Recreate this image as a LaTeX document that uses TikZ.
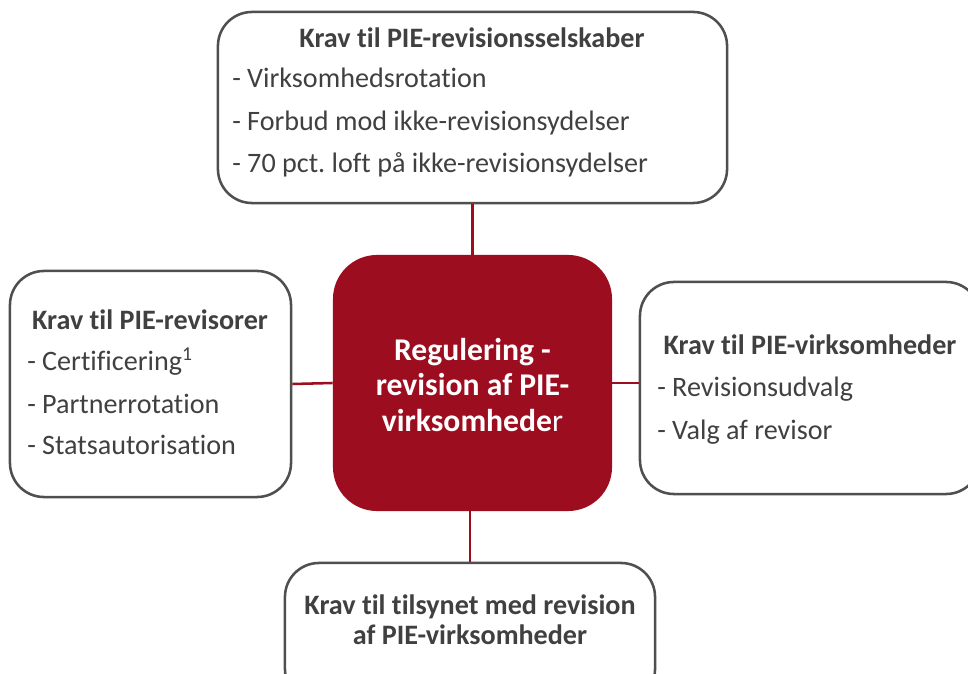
\documentclass[tikz,border=0pt]{standalone}
\usepackage{fontspec}
\setmainfont{Carlito}[Ligatures=NoCommon]
\usetikzlibrary{positioning}
\frenchspacing

\definecolor{piered}{HTML}{9C0D1F}
\definecolor{tekstgraa}{HTML}{404040}
\definecolor{kantgraa}{HTML}{4F4F4F}

\tikzset{
	kasse/.style={draw=kantgraa, line width=1.8pt, rounded corners=0.85cm, fill=white, inner sep=0pt},
	midte/.style={fill=piered, rounded corners=1.1cm, inner sep=0pt},
	forbind/.style={draw=piered, line width=1.8pt},
	titel/.style={text=tekstgraa, font=\fontsize{20}{24}\selectfont\bfseries, anchor=base},
	punkt/.style={text=tekstgraa, font=\fontsize{20}{24}\selectfont, anchor=base west, inner sep=0pt}
}

\begin{document}
\begin{tikzpicture}[x=0.025cm, y=-0.025cm]
	\useasboundingbox (0,0) rectangle (968,674);
	\fill[white] (0,0) rectangle (968,674);
	\clip (0,0) rectangle (968,674);

	% kasserne
	\node[kasse, minimum width=12.725cm, minimum height=4.775cm] (selskaber) at (472.5,107.5) {};
	\node[kasse, minimum width=7.025cm, minimum height=5.65cm] (revisorer) at (150.5,384) {};
	\node[kasse, minimum width=8.5cm, minimum height=5.3cm] (virksomheder) at (810,388) {};
	\node[kasse, minimum width=9.25cm, minimum height=3.5cm] (tilsyn) at (470,633) {};
	\node[midte, minimum width=6.975cm, minimum height=6.4cm] (regulering) at (472.5,383) {};

	% forbindelser
	\draw[forbind] (selskaber.south) -- (regulering.north);
	\draw[forbind] (revisorer.east) -- (regulering.west);
	\draw[forbind] (regulering.east) -- (regulering.east -| virksomheder.west);
	\draw[forbind] (regulering.south -| tilsyn.north) -- (tilsyn.north);

	% midten
	\node[text=white, align=center, font=\fontsize{22.5}{25.5}\selectfont\bfseries] (regtekst) at (472.5,385)
		{Regulering -\\revision af PIE-\\virksomhede\textmd{r}};

	% PIE-revisionsselskaber
	\node[titel] (seltitel) at (472,48) {Krav til PIE-revisionsselskaber};
	\node[punkt] (sel1) at (232,88) {- Virksomhedsrotation};
	\node[punkt] (sel2) at (232,131) {- Forbud mod ikke-revisionsydelser};
	\node[punkt] (sel3) at (232,173) {- 70 pct. loft på ikke-revisionsydelser};

	% PIE-revisorer
	\node[titel] (revtitel) at (150,330) {Krav til PIE-revisorer};
	\node[punkt] (rev1) at (27,371) {- Certificering\textsuperscript{1}};
	\node[punkt] (rev2) at (27,414) {- Partnerrotation};
	\node[punkt] (rev3) at (27,455) {- Statsautorisation};

	% PIE-virksomheder
	\node[titel] (virtitel) at (810,355) {Krav til PIE-virksomheder};
	\node[punkt] (vir1) at (657,397) {- Revisionsudvalg};
	\node[punkt] (vir2) at (657,440) {- Valg af revisor};

	% tilsynet
	\node[titel] (tiltitel1) at (470,615) {Krav til tilsynet med revision};
	\node[titel] (tiltitel2) at (470,645) {af PIE-virksomheder};
\end{tikzpicture}
\end{document}
